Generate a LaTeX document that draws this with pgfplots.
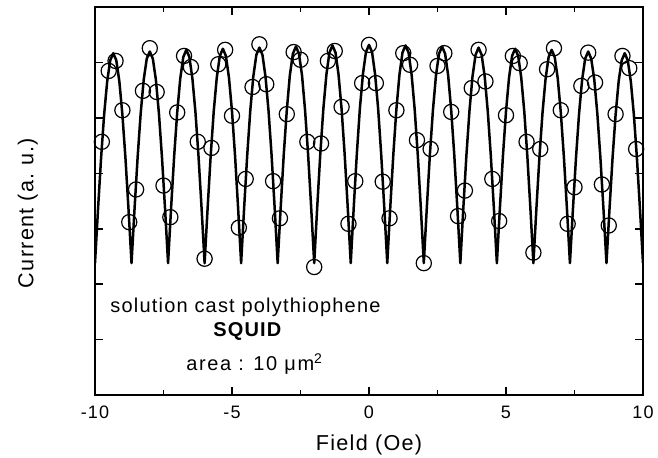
\documentclass[border=0pt]{standalone}
\usepackage{fontspec}
\setmainfont{Liberation Sans}[LetterSpace=6]
\usepackage{pgfplots}
\pgfplotsset{compat=1.18}

% fitted SQUID curve
\pgfplotstableread{
x y
-10.0000 2.38
-9.8889 3.36
-9.7778 4.28
-9.6667 5.06
-9.5556 5.66
-9.4444 6.04
-9.3333 6.17
-9.2222 6.04
-9.1111 5.66
-9.0000 5.06
-8.8889 4.28
-8.7778 3.36
-8.6667 2.38
-8.5556 3.37
-8.4444 4.29
-8.3333 5.08
-8.2222 5.69
-8.1111 6.07
-8.0000 6.20
-7.8889 6.07
-7.7778 5.69
-7.6667 5.08
-7.5556 4.29
-7.4444 3.37
-7.3333 2.38
-7.2222 3.38
-7.1111 4.31
-7.0000 5.10
-6.8889 5.71
-6.7778 6.10
-6.6667 6.23
-6.5556 6.10
-6.4444 5.71
-6.3333 5.10
-6.2222 4.31
-6.1111 3.38
-6.0000 2.38
-5.8889 3.38
-5.7778 4.32
-5.6667 5.12
-5.5556 5.73
-5.4444 6.12
-5.3333 6.25
-5.2222 6.12
-5.1111 5.73
-5.0000 5.12
-4.8889 4.32
-4.7778 3.38
-4.6667 2.38
-4.5556 3.39
-4.4444 4.33
-4.3333 5.13
-4.2222 5.75
-4.1111 6.14
-4.0000 6.27
-3.8889 6.14
-3.7778 5.75
-3.6667 5.13
-3.5556 4.33
-3.4444 3.39
-3.3333 2.38
-3.2222 3.39
-3.1111 4.34
-3.0000 5.14
-2.8889 5.77
-2.7778 6.16
-2.6667 6.29
-2.5556 6.16
-2.4444 5.77
-2.3333 5.14
-2.2222 4.34
-2.1111 3.39
-2.0000 2.38
-1.8889 3.40
-1.7778 4.35
-1.6667 5.16
-1.5556 5.78
-1.4444 6.18
-1.3333 6.31
-1.2222 6.18
-1.1111 5.78
-1.0000 5.16
-0.8889 4.35
-0.7778 3.40
-0.6667 2.38
-0.5556 3.40
-0.4444 4.35
-0.3333 5.17
-0.2222 5.79
-0.1111 6.19
0.0000 6.32
0.1111 6.19
0.2222 5.79
0.3333 5.17
0.4444 4.35
0.5556 3.40
0.6667 2.38
0.7778 3.40
0.8889 4.35
1.0000 5.16
1.1111 5.78
1.2222 6.18
1.3333 6.31
1.4444 6.18
1.5556 5.78
1.6667 5.16
1.7778 4.35
1.8889 3.40
2.0000 2.38
2.1111 3.39
2.2222 4.34
2.3333 5.14
2.4444 5.77
2.5556 6.16
2.6667 6.29
2.7778 6.16
2.8889 5.77
3.0000 5.14
3.1111 4.34
3.2222 3.39
3.3333 2.38
3.4444 3.39
3.5556 4.33
3.6667 5.13
3.7778 5.75
3.8889 6.14
4.0000 6.27
4.1111 6.14
4.2222 5.75
4.3333 5.13
4.4444 4.33
4.5556 3.39
4.6667 2.38
4.7778 3.38
4.8889 4.32
5.0000 5.12
5.1111 5.73
5.2222 6.12
5.3333 6.25
5.4444 6.12
5.5556 5.73
5.6667 5.12
5.7778 4.32
5.8889 3.38
6.0000 2.38
6.1111 3.38
6.2222 4.31
6.3333 5.10
6.4444 5.71
6.5556 6.10
6.6667 6.23
6.7778 6.10
6.8889 5.71
7.0000 5.10
7.1111 4.31
7.2222 3.38
7.3333 2.38
7.4444 3.37
7.5556 4.29
7.6667 5.08
7.7778 5.69
7.8889 6.07
8.0000 6.20
8.1111 6.07
8.2222 5.69
8.3333 5.08
8.4444 4.29
8.5556 3.37
8.6667 2.38
8.7778 3.36
8.8889 4.28
9.0000 5.06
9.1111 5.66
9.2222 6.04
9.3333 6.17
9.4444 6.04
9.5556 5.66
9.6667 5.06
9.7778 4.28
9.8889 3.36
10.0000 2.38
}\fitcurve

% measured points
\pgfplotstableread{
x y
-9.75 4.57
-9.50 5.85
-9.25 6.03
-9.00 5.14
-8.75 3.12
-8.50 3.71
-8.25 5.49
-8.00 6.26
-7.75 5.47
-7.50 3.78
-7.25 3.21
-7.00 5.10
-6.75 6.12
-6.50 5.92
-6.25 4.57
-6.00 2.46
-5.75 4.46
-5.50 5.97
-5.25 6.23
-5.00 5.04
-4.75 3.02
-4.50 3.90
-4.25 5.56
-4.00 6.33
-3.75 5.61
-3.50 3.86
-3.25 3.19
-3.00 5.07
-2.75 6.19
-2.50 6.05
-2.25 4.57
-2.00 2.31
-1.75 4.54
-1.50 6.03
-1.25 6.21
-1.00 5.20
-0.75 3.09
-0.50 3.86
-0.25 5.63
0.00 6.32
0.25 5.63
0.50 3.85
0.75 3.19
1.00 5.14
1.25 6.17
1.50 5.96
1.75 4.60
2.00 2.38
2.25 4.44
2.50 5.94
2.75 6.17
3.00 5.11
3.25 3.23
3.50 3.69
3.75 5.54
4.00 6.23
4.25 5.66
4.50 3.90
4.75 3.14
5.00 5.05
5.25 6.12
5.50 5.99
5.75 4.57
6.00 2.57
6.25 4.44
6.50 5.88
6.75 6.26
7.00 5.14
7.25 3.09
7.50 3.75
7.75 5.58
8.00 6.18
8.25 5.64
8.50 3.80
8.75 3.06
9.00 5.07
9.25 6.12
9.50 5.90
9.75 4.44
}\measured

\begin{document}
\begin{tikzpicture}
\begin{axis}[
    at={(0,0)}, anchor=south west,
    scale only axis, width=274pt, height=193.9pt,
    xmin=-10, xmax=10, ymin=0, ymax=7,
    xtick={-10,-5,0,5,10},
    minor xtick={-7.5,-2.5,2.5,7.5},
    ytick={1,2,3,4,5,6}, yticklabels={},
    xtick pos=both, ytick pos=both,
    tick align=inside,
    major tick length=4pt, minor tick length=2.5pt,
    axis line style={line width=1pt},
    every tick/.style={black, line width=0.8pt},
    /pgf/number format/assume math mode=true,
    tick label style={font=\fontsize{9}{10}\selectfont},
    xticklabel style={anchor=base, yshift=-12pt},
    xlabel={Field (Oe)},
    ylabel={Current (a.\ u.)},
    label style={font=\fontsize{10.8}{12}\selectfont},
    xlabel style={at={(axis description cs:0.5,-0.142)}, anchor=base, inner sep=0pt},
    ylabel style={at={(axis description cs:-0.1126,0.469)}, anchor=base, inner sep=0pt},
]
\addplot[only marks, mark=o, mark size=3.8pt, mark options={line width=0.6pt, black}] table {\measured};
\addplot[black, line width=1.25pt, line join=round] table {\fitcurve};

\node[anchor=base west, inner sep=0pt, font=\fontsize{10}{12}\selectfont] at (axis cs:-9.45,1.49) {solution cast polythiophene};
\node[anchor=base, inner sep=0pt, font=\fontsize{10}{12}\selectfont\bfseries] at (axis cs:-4.44,1.05) {SQUID};
\node[anchor=base west, inner sep=0pt, font=\fontsize{10}{12}\selectfont\addfontfeature{LetterSpace=8}] at (axis cs:-6.68,0.44) {area : 10 μm\textsuperscript{2}};
\end{axis}
\pgfresetboundingbox
\path[use as bounding box] (-47.5pt,-31.5pt) rectangle (281.5pt,197.5pt);
\end{tikzpicture}
\end{document}
